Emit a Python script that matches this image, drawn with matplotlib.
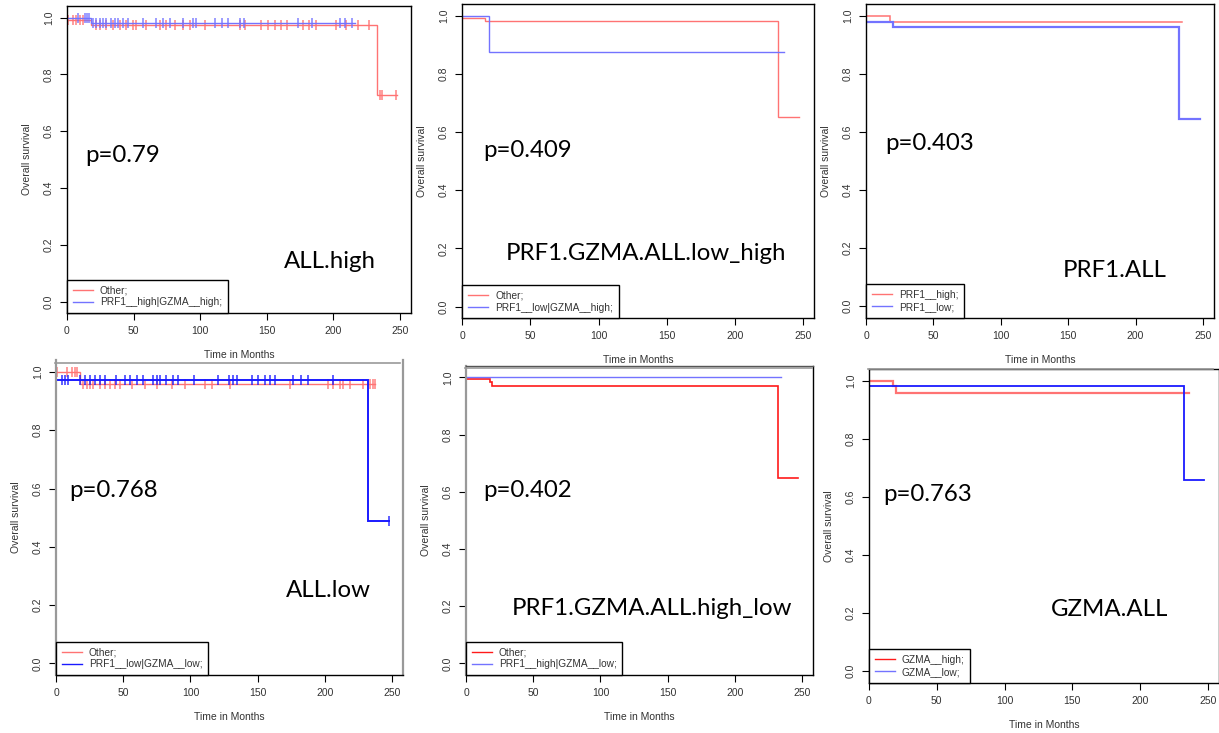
import numpy as np
import matplotlib
matplotlib.use("Agg")
import matplotlib.pyplot as plt
from matplotlib.lines import Line2D
from matplotlib import font_manager

W, H = 1219, 733

# ---------------- data ----------------
# each curve: step start times, survival after each step, end of follow-up
p1_red_t = [0, 18, 233];      p1_red_s = [0.992, 0.975, 0.728]; p1_red_end = 248
p1_blue_t = [0, 18];          p1_blue_s = [1.0, 0.980];         p1_blue_end = 216
p1_red_cens = [0.8, 4.5, 7, 9.5, 12, 22, 24.6, 29.6, 34.6, 39.6, 44.6, 49.6, 52, 59.6,
               69.6, 74.6, 81.4, 87, 92, 103.5, 129.8, 133.5, 146, 151, 156, 161, 164.8,
               177, 182, 187, 202, 209.7, 218.4, 227, 235, 236.5, 247]
p1_blue_cens = [8.3, 13.3, 15, 16.5, 19.5, 22, 24.6, 27, 29.6, 33.3, 35.8, 38.3, 42, 45.8,
                57, 67, 72, 77, 87, 94.7, 97, 111, 116, 121, 130, 133, 173.6, 183.6,
                205, 208.7, 213.7]

p2_red_t = [0, 16.6, 231.7];  p2_red_s = [0.991, 0.983, 0.653]; p2_red_end = 246.8
p2_blue_t = [0, 19.5];        p2_blue_s = [1.0, 0.874];         p2_blue_end = 235.8

p3_red_t = [0, 17.8];         p3_red_s = [1.0, 0.980];          p3_red_end = 234.7
p3_blue_t = [0, 19.8, 232];   p3_blue_s = [0.980, 0.963, 0.644]; p3_blue_end = 247.5

p4_red_t = [0, 17.9];         p4_red_s = [1.0, 0.960];          p4_red_end = 237.5
p4_blue_t = [0, 232];         p4_blue_s = [0.972, 0.490];       p4_blue_end = 248
p4_red_cens = [0.5, 8, 11.6, 14, 15.4, 20.3, 22.8, 25.3, 27.7, 32.7, 36.4, 40, 43.9,
               47.6, 56.3, 66, 74.8, 86, 96, 110.8, 115.8, 129.3, 174, 202.5, 206, 211,
               213.6, 218.5, 228.4, 233.4, 235.8, 237]
p4_blue_cens = [4.2, 6.7, 9.2, 17.8, 21.6, 25.3, 29, 32.7, 36.4, 45, 51.2, 55, 60, 65,
                72.3, 74.8, 77.3, 82.2, 87.2, 91, 103, 120.7, 128.8, 131.8, 134.3,
                145.5, 150.4, 155.4, 159, 162.8, 176.4, 182.6, 187.5, 206, 248]

p5_red_t = [0, 17.6, 19.6, 232]; p5_red_s = [0.994, 0.983, 0.971, 0.647]; p5_red_end = 247
p5_blue_t = [0];              p5_blue_s = [1.0];                p5_blue_end = 234

p6_red_t = [0, 17.5, 19.7];   p6_red_s = [1.0, 0.983, 0.960];   p6_red_end = 236
p6_blue_t = [0, 232];         p6_blue_s = [0.984, 0.659];       p6_blue_end = 246.8

p_values = ["p=0.79", "p=0.409", "p=0.403", "p=0.768", "p=0.402", "p=0.763"]
titles = ["ALL.high", "PRF1.GZMA.ALL.low_high", "PRF1.ALL",
          "ALL.low", "PRF1.GZMA.ALL.high_low", "GZMA.ALL"]
legend_labels = [
    ("Other;", "PRF1__high|GZMA__high;"),
    ("Other;", "PRF1__low|GZMA__high;"),
    ("PRF1__high;", "PRF1__low;"),
    ("Other;", "PRF1__low|GZMA__low;"),
    ("Other;", "PRF1__high|GZMA__low;"),
    ("GZMA__high;", "GZMA__low;"),
]
x_ticks = [0, 50, 100, 150, 200, 250]
y_ticks = [0.0, 0.2, 0.4, 0.6, 0.8, 1.0]

# ---------------- layout (pixels: left, right, top, bottom) ----------------
boxes = [
    (67, 410.7, 6.3, 313),
    (462.3, 813.9, 4.1, 318.3),
    (866, 1213.8, 4.4, 317.6),
    (56, 402.8, 360.3, 675),
    (466, 812.8, 365.9, 674.8),
    (869, 1218.8, 369.4, 682.6),
]
ptext_pos = [(14, 0.516), (15.4, 0.536), (14.6, 0.561), (9.9, 0.594), (13.1, 0.603), (10.6, 0.609)]
title_pos = [(162.8, 0.141), (32, 0.183), (146.2, 0.122), (171, 0.249), (34.2, 0.192), (134.3, 0.213)]

RED_L = (1.0, 0.45, 0.45)
BLUE_L = (0.45, 0.45, 1.0)
RED_D = (1.0, 0.1, 0.1)
BLUE_D = (0.1, 0.1, 1.0)
panels = [
    dict(red=(p1_red_t, p1_red_s, p1_red_end, p1_red_cens, RED_L, 1.0),
         blue=(p1_blue_t, p1_blue_s, p1_blue_end, p1_blue_cens, BLUE_L, 1.0)),
    dict(red=(p2_red_t, p2_red_s, p2_red_end, [], RED_L, 1.0),
         blue=(p2_blue_t, p2_blue_s, p2_blue_end, [], BLUE_L, 1.0)),
    dict(red=(p3_red_t, p3_red_s, p3_red_end, [], RED_L, 1.1),
         blue=(p3_blue_t, p3_blue_s, p3_blue_end, [], BLUE_L, 1.6)),
    dict(red=(p4_red_t, p4_red_s, p4_red_end, p4_red_cens, RED_L, 1.0),
         blue=(p4_blue_t, p4_blue_s, p4_blue_end, p4_blue_cens, BLUE_D, 1.4)),
    dict(red=(p5_red_t, p5_red_s, p5_red_end, [], RED_D, 1.2),
         blue=(p5_blue_t, p5_blue_s, p5_blue_end, [], BLUE_L, 1.0)),
    dict(red=(p6_red_t, p6_red_s, p6_red_end, [], RED_L, 1.6),
         blue=(p6_blue_t, p6_blue_s, p6_blue_end, [], BLUE_D, 1.3)),
]
legend_colors = [(RED_L, BLUE_L), (RED_L, BLUE_L), (RED_L, BLUE_L),
                 (RED_L, BLUE_D), (RED_D, BLUE_L), (RED_D, BLUE_L)]


def pick_font(names):
    for n in names:
        try:
            font_manager.findfont(font_manager.FontProperties(family=n),
                                  fallback_to_default=False)
            return n
        except Exception:
            continue
    return "DejaVu Sans"


SANS = pick_font(["Liberation Sans Narrow", "Liberation Sans"])
NARROW = SANS == "Liberation Sans Narrow"
SMALL = 8.3 if NARROW else 7.5
BIG = pick_font(["Lato", "Open Sans"])

fig = plt.figure(figsize=(W / 100, H / 100), dpi=100)
fig.patch.set_facecolor("white")


def surv_at(t, s, x):
    idx = np.searchsorted(np.asarray(t), np.asarray(x), side="right") - 1
    return np.asarray(s)[np.clip(idx, 0, len(s) - 1)]


for i, (box, pan) in enumerate(zip(boxes, panels)):
    l, r, t, b = box
    ax = fig.add_axes([l / W, 1 - b / H, (r - l) / W, (b - t) / H])
    ax.set_xlim(0, 258)
    ax.set_ylim(-0.04, 1.04)
    hpx = b - t
    for key in ("red", "blue"):
        tt, ss, end, cens, col, lw = pan[key]
        xs = list(tt) + [end]
        ys = list(ss) + [ss[-1]]
        ax.step(xs, ys, where="post", color=col, lw=lw, solid_joinstyle="miter")
        if len(cens):
            ax.plot(cens, surv_at(tt, ss, cens), ls="none", marker="|", ms=7,
                    mew=1.1, color=col, alpha=0.9)
    lc = legend_colors[i]
    handles = [Line2D([], [], color=lc[0], lw=1.0), Line2D([], [], color=lc[1], lw=1.0)]
    leg = ax.legend(handles, legend_labels[i], loc="lower left", borderaxespad=0,
                    fancybox=False, edgecolor="black", framealpha=1,
                    prop=dict(family=SANS, size=SMALL - 0.2), labelcolor="#333333",
                    handlelength=2.0, handletextpad=0.7, borderpad=0.55,
                    labelspacing=0.2)
    leg.get_frame().set_linewidth(1.0)

    ax.text(ptext_pos[i][0], ptext_pos[i][1], p_values[i], fontsize=17.3,
            family=BIG, va="center", ha="left", color="black")
    ax.text(title_pos[i][0], title_pos[i][1], titles[i], fontsize=17.3,
            family=BIG, va="center", ha="left", color="black")

    ax.set_xticks(x_ticks)
    ax.set_yticks(y_ticks)
    ax.set_xticklabels([str(v) for v in x_ticks])
    ax.set_yticklabels([f"{v:.1f}" for v in y_ticks], rotation=90, va="center")
    ax.tick_params(direction="out", length=5, width=0.8, color="black",
                   labelsize=SMALL, labelcolor="#333333", pad=4.5)
    for lab in ax.get_xticklabels() + ax.get_yticklabels():
        lab.set_family(SANS)
    ax.set_xlabel("Time in Months", family=SANS, fontsize=SMALL, color="#333333")
    ax.set_ylabel("Overall survival", family=SANS, fontsize=SMALL, color="#333333")
    ax.xaxis.set_label_coords(0.5, -37 / hpx)
    ax.yaxis.set_label_coords(-35 / (r - l), 0.5)
    for sp in ax.spines.values():
        sp.set_linewidth(1.0)
        sp.set_color("black")
    if i == 3:
        ax.spines["top"].set_visible(False)
        ax.spines["left"].set_color("#999999")
        ax.spines["left"].set_linewidth(1.6)
        ax.spines["right"].set_color("#999999")
        ax.spines["right"].set_linewidth(1.6)
    if i == 4:
        ax.spines["left"].set_color("#999999")
        ax.spines["left"].set_linewidth(1.6)
        ax.spines["top"].set_color("#555555")

# screenshot separator lines beneath the top row
for (x0, x1, y) in [(55, 400, 362.5), (465, 812, 368), (868, 1213, 369)]:
    fig.add_artist(Line2D([x0 / W, x1 / W], [1 - y / H, 1 - y / H],
                          transform=fig.transFigure, color="#999999", lw=1.2))

fig.savefig("out.png", dpi=100, facecolor="white")
